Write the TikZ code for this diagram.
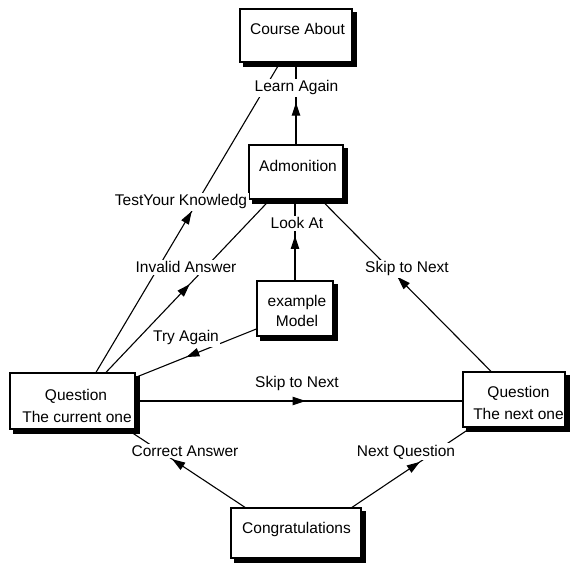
\documentclass[tikz,border=0pt]{standalone}
\usepackage{fontspec}
\setmainfont{Liberation Sans}
\usetikzlibrary{calc,arrows.meta,decorations.markings}
\begin{document}
\begin{tikzpicture}[x=1pt,y=-1pt,
  box/.style={draw=black, line width=1.3pt, fill=white, inner sep=0pt},
  txt/.style={anchor=base, inner sep=0pt, font=\fontsize{15.5}{18}\selectfont},
  lbl/.style={anchor=base, fill=white, inner sep=1.5pt, font=\fontsize{15.5}{18}\selectfont},
  conn/.style={draw=black, line width=1.1pt},
  midarrow/.style={postaction={decorate}, decoration={markings,
    mark=at position #1 with {\arrow{Triangle[length=13pt,width=8.5pt]}}}}]
\useasboundingbox (0,0) rectangle (571,564);

% boxes
\node[box, minimum width=112pt, minimum height=53pt] (course) at (296,35.5) {};
\node[box, minimum width=94pt, minimum height=54pt] (adm) at (296,172) {};
\node[box, minimum width=76pt, minimum height=55pt] (model) at (295,308.5) {};
\node[box, minimum width=125pt, minimum height=56pt] (cur) at (72.5,401) {};
\node[box, minimum width=102pt, minimum height=55pt] (next) at (514,399.5) {};
\node[box, minimum width=130pt, minimum height=50pt] (congr) at (296,533) {};

% solid shadow along the right and bottom edge of every box
\foreach \b in {course,adm,model,cur,next,congr}{
  \fill[black] ($(\b.north east)+(0,4)$) rectangle ($(\b.south east)+(4,4)$);
  \fill[black] ($(\b.south west)+(4,0)$) rectangle ($(\b.south east)+(4,4)$);
}

% box texts
\node[txt] (courset) at (297.5,35) {Course About};
\node[txt] (admt) at (298,172) {Admonition};
\node[txt] (modela) at (297,306.5) {example};
\node[txt] (modelb) at (297,327) {Model};
\node[txt] (curq) at (76,400) {Question};
\node[txt] (curt) at (77,423) {The current one};
\node[txt] (nextq) at (518.5,398) {Question};
\node[txt] (nextt) at (518.5,420) {The next one};
\node[txt] (congrt) at (296.5,533) {Congratulations};

% connectors
\draw[conn, midarrow=0.52] ($(cur.north)+(23.5,0)$) -- ($(course.south)+(-16,0)$);
\draw[conn, midarrow=0.51] (adm.north) -- (course.south);
\draw[conn, midarrow=0.51] ($(cur.north)+(33.5,0)$) -- ($(adm.south)+(-26,0)$);
\draw[conn, midarrow=0.55] (model.north) -- (model.north |- adm.south);
\draw[conn, midarrow=0.55] ($(next.north)+(-23,0)$) -- ($(adm.south)+(25,0)$);
\draw[conn, midarrow=0.58] ($(model.west)+(0,20.5)$) -- ($(cur.north east)+(0,5)$);
\draw[conn, midarrow=0.52] (cur.east) -- (cur.east -| next.west);
\draw[conn, midarrow=0.62] ($(congr.north)+(-51,0)$) -- ($(cur.south)+(55,0)$);
\draw[conn, midarrow=0.57] ($(congr.north)+(56,0)$) -- ($(next.south)+(-43,0)$);

% connector labels
\node[lbl] (llearn) at (296.5,92) {Learn Again};
\node[lbl] (ltest) at (181,206) {TestYour Knowledg};
\node[lbl] (linvalid) at (186,273) {Invalid Answer};
\node[lbl] (llook) at (297,229) {Look At};
\node[lbl] (lskipr) at (407,273) {Skip to Next};
\node[lbl] (ltry) at (186,342) {Try Again};
\node[lbl] (lskipm) at (297,388) {Skip to Next};
\node[lbl] (lcorrect) at (185,456) {Correct Answer};
\node[lbl] (lnextq) at (406,456) {Next Question};
\end{tikzpicture}
\end{document}
